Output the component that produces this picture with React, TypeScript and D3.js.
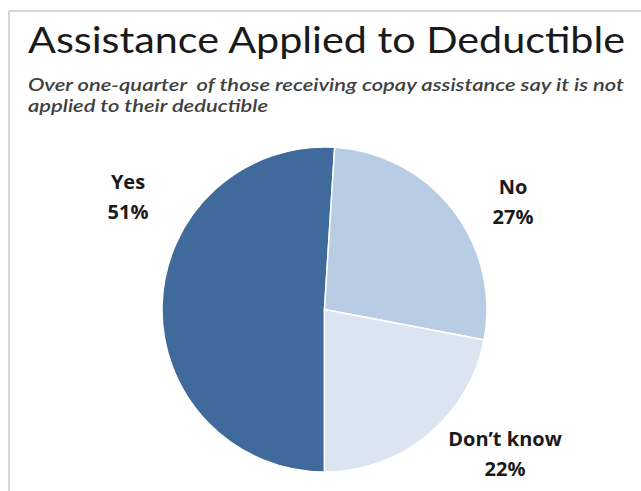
import React from "react";
import * as d3 from "d3";

const categories = ["Yes", "No", "Don\u2019t know"];
const values = [51, 27, 22];
const colors = ["#3f6a9b", "#b8cce4", "#dbe5f2"];
const title = "Assistance Applied to Deductible";
const subtitleLines = [
  "Over one-quarter  of those receiving copay assistance say it is not",
  "applied to their deductible",
];
const subtitleWidths = [596, 240];
const labelPos = [
  { x: 128, y: 189 },
  { x: 513, y: 194 },
  { x: 505, y: 446 },
];

export default function App() {
  const W = 641, H = 491;
  const cx = 324.5, cy = 309.5, r = 162.5;
  const pie = d3.pie<number>().sort(null).startAngle(Math.PI).endAngle(3 * Math.PI);
  const arcs = pie(values);
  const arc = d3.arc<d3.PieArcDatum<number>>().innerRadius(0).outerRadius(r);
  return (
    <svg width={W} height={H} style={{ position: "absolute", left: 0, top: 0, background: "#fff" }}>
      <rect x={0} y={0} width={W} height={H} fill="#fff" />
      <line x1={9} y1={11} x2={W} y2={11} stroke="#d6d6d6" strokeWidth={2} />
      <line x1={9} y1={11} x2={9} y2={H} stroke="#d6d6d6" strokeWidth={2} />
      <text x={28} y={53} fontFamily="Lato, 'Open Sans', sans-serif" fontSize={37} fill="#1a1a1a"
        textLength={597} lengthAdjust="spacingAndGlyphs">{title}</text>
      {subtitleLines.map((s, i) => (
        <text key={i} x={28} y={91 + i * 21} fontFamily="Lato, 'Open Sans', sans-serif" fontStyle="italic"
          fontSize={18} fontWeight={600} fill="#404040" style={{ whiteSpace: "pre" }}
          textLength={subtitleWidths[i]} lengthAdjust="spacingAndGlyphs">{s}</text>
      ))}
      <g transform={`translate(${cx},${cy})`}>
        {arcs.map((a, i) => (
          <path key={i} d={arc(a) || ""} fill={colors[i]} stroke="#fff" strokeWidth={1.5} />
        ))}
      </g>
      {categories.map((c, i) => (
        <text key={i} x={labelPos[i].x} textAnchor="middle" fontFamily="'Open Sans', Lato, sans-serif"
          fontWeight="bold" fontSize={20} fill="#1a1a1a">
          <tspan x={labelPos[i].x} y={labelPos[i].y}>{c}</tspan>
          <tspan x={labelPos[i].x} y={labelPos[i].y + 30}>{values[i]}%</tspan>
        </text>
      ))}
    </svg>
  );
}
